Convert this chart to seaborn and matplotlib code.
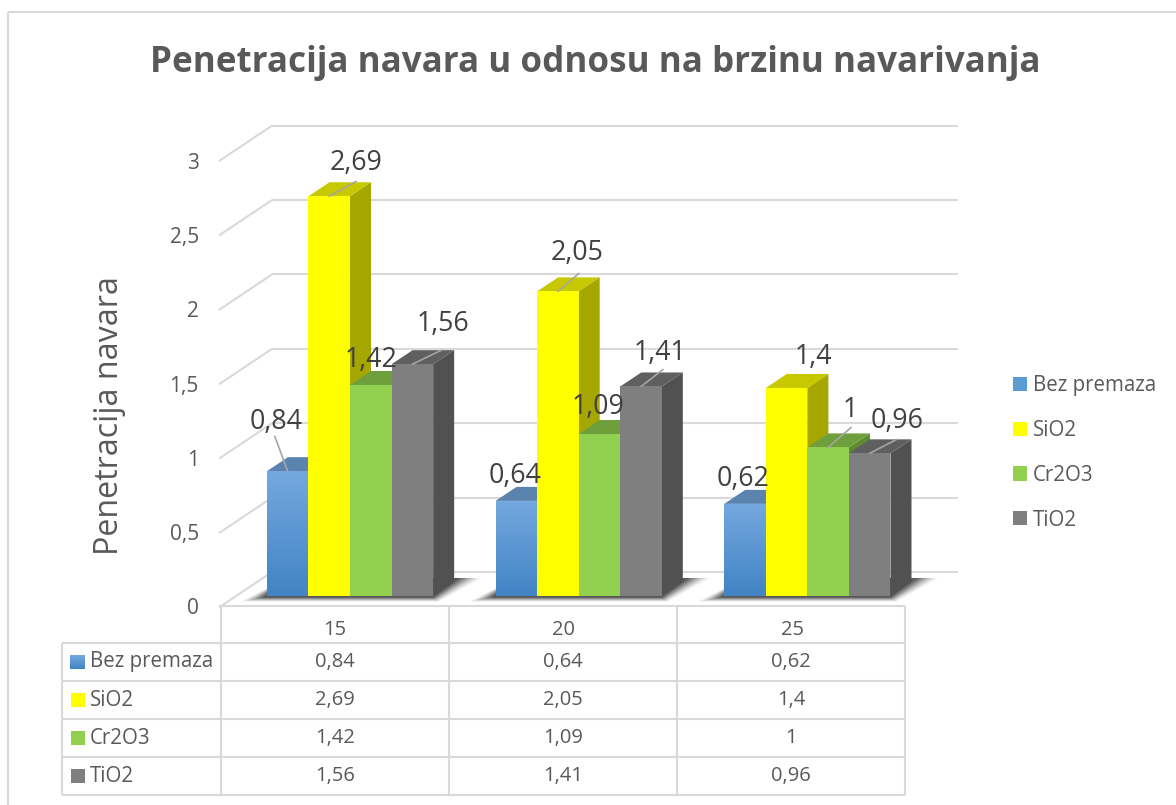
import numpy as np
import pandas as pd
import matplotlib
matplotlib.use("Agg")
import matplotlib.pyplot as plt
from matplotlib.patches import Polygon, Rectangle
from matplotlib.transforms import ScaledTranslation
from matplotlib.colors import LinearSegmentedColormap
import seaborn as sns

# ---------- data ----------
categories = ["15", "20", "25"]
series_names = ["Bez premaza", "SiO2", "Cr2O3", "TiO2"]
bez_premaza = [0.84, 0.64, 0.62]
sio2 = [2.69, 2.05, 1.40]
cr2o3 = [1.42, 1.09, 1.00]
tio2 = [1.56, 1.41, 0.96]
series_values = [bez_premaza, sio2, cr2o3, tio2]
y_ticks = [0, 0.5, 1, 1.5, 2, 2.5, 3]
title = "Penetracija navara u odnosu na brzinu navarivanja"
y_title = "Penetracija navara"

# ---------- style ----------
front_colors = ["#5b9bd5", "#ffff00", "#92d050", "#7f7f7f"]
top_colors = ["#5a83ae", "#c8c800", "#6f9e3d", "#5f5f5f"]
side_colors = ["#46709a", "#a6a600", "#5f8a33", "#515151"]
line_gray = "#d9d9d9"
text_gray = "#595959"
label_gray = "#404040"
# label offset from top-centre of the bar, px (dx, dy up), series by category
label_off = [[(-12, 49), (-1, 25), (-2, 25)],
             [(27, 33), (19, 38), (27, 31)],
             [(0, 25), (-1, 27), (22, 37)],
             [(31, 40), (19, 33), (27, 32)]]
# leader line end, px from the bar top-centre; None = no leader
leader_off = [[(-13, 35), None, None],
              [(27, 15), (21, 18), None],
              [None, None, (23, 20)],
              [(29, 14), (22, 17), (27, 14)]]

W, H = 1176, 805
sns.set_theme(style="white")
plt.rcParams["font.family"] = ["Open Sans", "DejaVu Sans"]
fig = plt.figure(figsize=(W / 100, H / 100), dpi=100, facecolor="white")

# pixel-space layer for wall, frame, and table
bg = fig.add_axes([0, 0, 1, 1], zorder=0)
bg.set_xlim(0, W); bg.set_ylim(H, 0); bg.axis("off")

def seg(xs, ys, lw=1.5, c=line_gray):
    bg.plot(xs, ys, color=c, lw=lw, solid_capstyle="butt")

# outer frame: left and top edges only
seg([8, 8], [12, 805]); seg([8, 1176], [12, 12])

# back wall gridlines
for v in y_ticks:
    yb = 572 - 148.8 * v
    seg([272, 958], [yb, yb])
    seg([219, 272], [yb + 35.5, yb])

# data table
col_x = [221, 449, 677, 905]
row_y = [606, 642.7, 681, 719, 757.3, 795]
tbl_left = 62
seg([219, 905], [row_y[0]] * 2)
for y in row_y[1:]:
    seg([tbl_left, 905], [y, y])
seg([tbl_left, tbl_left], [row_y[1], row_y[-1]])
for x in col_x:
    seg([x, x], [row_y[0], row_y[-1]])
grad_cmap = LinearSegmentedColormap.from_list("b", ["#74a8df", "#4284c5"])
for r, name in enumerate(series_names):
    yc = (row_y[r + 1] + row_y[r + 2]) / 2
    if r == 0:
        bg.imshow(np.linspace(0, 1, 32)[:, None], cmap=grad_cmap, aspect="auto",
                  extent=(70, 85, yc + 7, yc - 7), zorder=3)
    else:
        bg.add_patch(Rectangle((71, yc - 7), 14, 14, color=front_colors[r], lw=0, zorder=3))
    bg.text(90, yc, name, fontsize=14.8, color=text_gray, va="center", ha="left")
    for c in range(3):
        bg.text((col_x[c] + col_x[c + 1]) / 2, yc,
                f"{series_values[r][c]:g}".replace(".", ","),
                fontsize=14.5, color=text_gray, va="center", ha="center")
bg.set_xlim(0, W); bg.set_ylim(H, 0)

# title and axis title
bg.text(595, 63, title, fontsize=25.2, fontweight="bold", color=text_gray, ha="center", va="center")
bg.text(110, 416, y_title, fontsize=23.2, color=text_gray, rotation=90, ha="center", va="center")

# main bars
ax_l, ax_r, ax_b, ax_t = 235.7, 921.7, 596.0, 596.0 - 148.6 * 3
ax = fig.add_axes([ax_l / W, 1 - ax_b / H, (ax_r - ax_l) / W, (ax_b - ax_t) / H], zorder=1)
ax.patch.set_alpha(0)
df = pd.DataFrame({
    "Brzina": np.tile(categories, len(series_names)),
    "Premaz": np.repeat(series_names, len(categories)),
    "Penetracija": np.concatenate(series_values),
})
sns.barplot(data=df, x="Brzina", y="Penetracija", hue="Premaz", order=categories,
            hue_order=series_names, palette=front_colors, saturation=1,
            width=0.727, gap=0, linewidth=0, errorbar=None, ax=ax, legend=True)
ax.set_xlim(-0.5, 2.5); ax.set_ylim(0, 3)
ax.set_xlabel(""); ax.set_ylabel("")
sns.despine(ax=ax, left=True, bottom=True, top=True, right=True)

pxx = 3 / (ax_r - ax_l)     # data units per pixel, x
pxy = 3 / (ax_b - ax_t)     # data units per pixel, y
ddx, ddy = 21 * pxx, 14 * pxy

bars = list(ax.patches)[:12]
order = sorted(range(12), key=lambda i: (i % 3, i // 3))

# soft floor shadow per group: wedge to the right and thin band below
for c in range(3):
    left = bars[c].get_x()
    right = bars[9 + c].get_x() + bars[9 + c].get_width()
    for k, a in enumerate([0.06, 0.08, 0.10, 0.13, 0.18, 0.22, 0.28, 0.34]):
        g = 7 - k
        pts = [(left - (18 + g * 1.2) * pxx + k * 2 * pxx, -(1.5 + g * 0.6) * pxy),
               (right + g * 0.8 * pxx, -(1.5 + g * 0.6) * pxy),
               (right + (48 - k * 3) * pxx, 18 * pxy),
               (right + 15 * pxx, 18 * pxy),
               (left + 20 * pxx, 18 * pxy)]
        ax.add_patch(Polygon(pts, closed=True, color="#303030", alpha=a, lw=0,
                             zorder=1, clip_on=False))

# painter's order: left to right, side + top then front
for n, i in enumerate(order):
    s, c = i // 3, i % 3
    b = bars[i]
    x0, w, h = b.get_x(), b.get_width(), b.get_height()
    z = 3 + n
    ax.add_patch(Polygon([(x0 + w, 0), (x0 + w + ddx, ddy), (x0 + w + ddx, h + ddy), (x0 + w, h)],
                         color=side_colors[s], lw=0, zorder=z, clip_on=False))
    ax.add_patch(Polygon([(x0, h), (x0 + ddx, h + ddy), (x0 + w + ddx, h + ddy), (x0 + w, h)],
                         color=top_colors[s], lw=0, zorder=z, clip_on=False))
    b.set_zorder(z + 0.2)
    if s == 0:
        im = ax.imshow(np.linspace(0, 1, 64)[:, None], cmap=grad_cmap, aspect="auto",
                       extent=(x0, x0 + w, 0, h), origin="upper", zorder=z + 0.3)
        im.set_clip_path(b)

# value labels and leaders
for i in range(12):
    s, c = i // 3, i % 3
    b = bars[i]
    cx, h = b.get_x() + b.get_width() / 2, b.get_height()
    txt = f"{series_values[s][c]:g}".replace(".", ",")
    lo = leader_off[s][c]
    if lo is not None:
        ax.annotate("", xy=(cx, h), xytext=lo, textcoords="offset pixels",
                    arrowprops=dict(arrowstyle="-", color="#a6a6a6", lw=1.2,
                                    shrinkA=0, shrinkB=0), zorder=30, annotation_clip=False)
    ax.annotate(txt, xy=(cx, h), xytext=label_off[s][c], textcoords="offset pixels",
                fontsize=19.3, color=label_gray, ha="center", va="center", zorder=31,
                annotation_clip=False)

ax.set_xlim(-0.5, 2.5); ax.set_ylim(0, 3)

# ticks
ax.set_yticks(y_ticks)
ax.set_yticklabels([f"{v:g}".replace(".", ",") for v in y_ticks], fontsize=15, color=text_gray)
ax.tick_params(axis="y", length=0, pad=26.5)
ax.tick_params(axis="x", length=0, pad=17.5)
ax.set_xticks(range(3))
ax.set_xticklabels(categories, fontsize=14.5, color=text_gray)
dpi_tr = fig.dpi_scale_trans
for lab in ax.get_yticklabels():
    lab.set_transform(lab.get_transform() + ScaledTranslation(0, -10.5 / 100, dpi_tr))
for lab in ax.get_xticklabels():
    lab.set_transform(lab.get_transform() + ScaledTranslation(-15 / 100, 0, dpi_tr))

# legend
handles, labels = ax.get_legend_handles_labels()
ax.legend(handles, labels, loc="upper left", bbox_to_anchor=(1013 / W, 1 - 375 / H),
          bbox_transform=fig.transFigure, frameon=False, fontsize=14.8,
          labelcolor=text_gray, handlelength=0.68, handleheight=0.68, handletextpad=0.3,
          labelspacing=1.16, borderpad=0, borderaxespad=0)

fig.savefig("out.png", dpi=100, facecolor="white")
